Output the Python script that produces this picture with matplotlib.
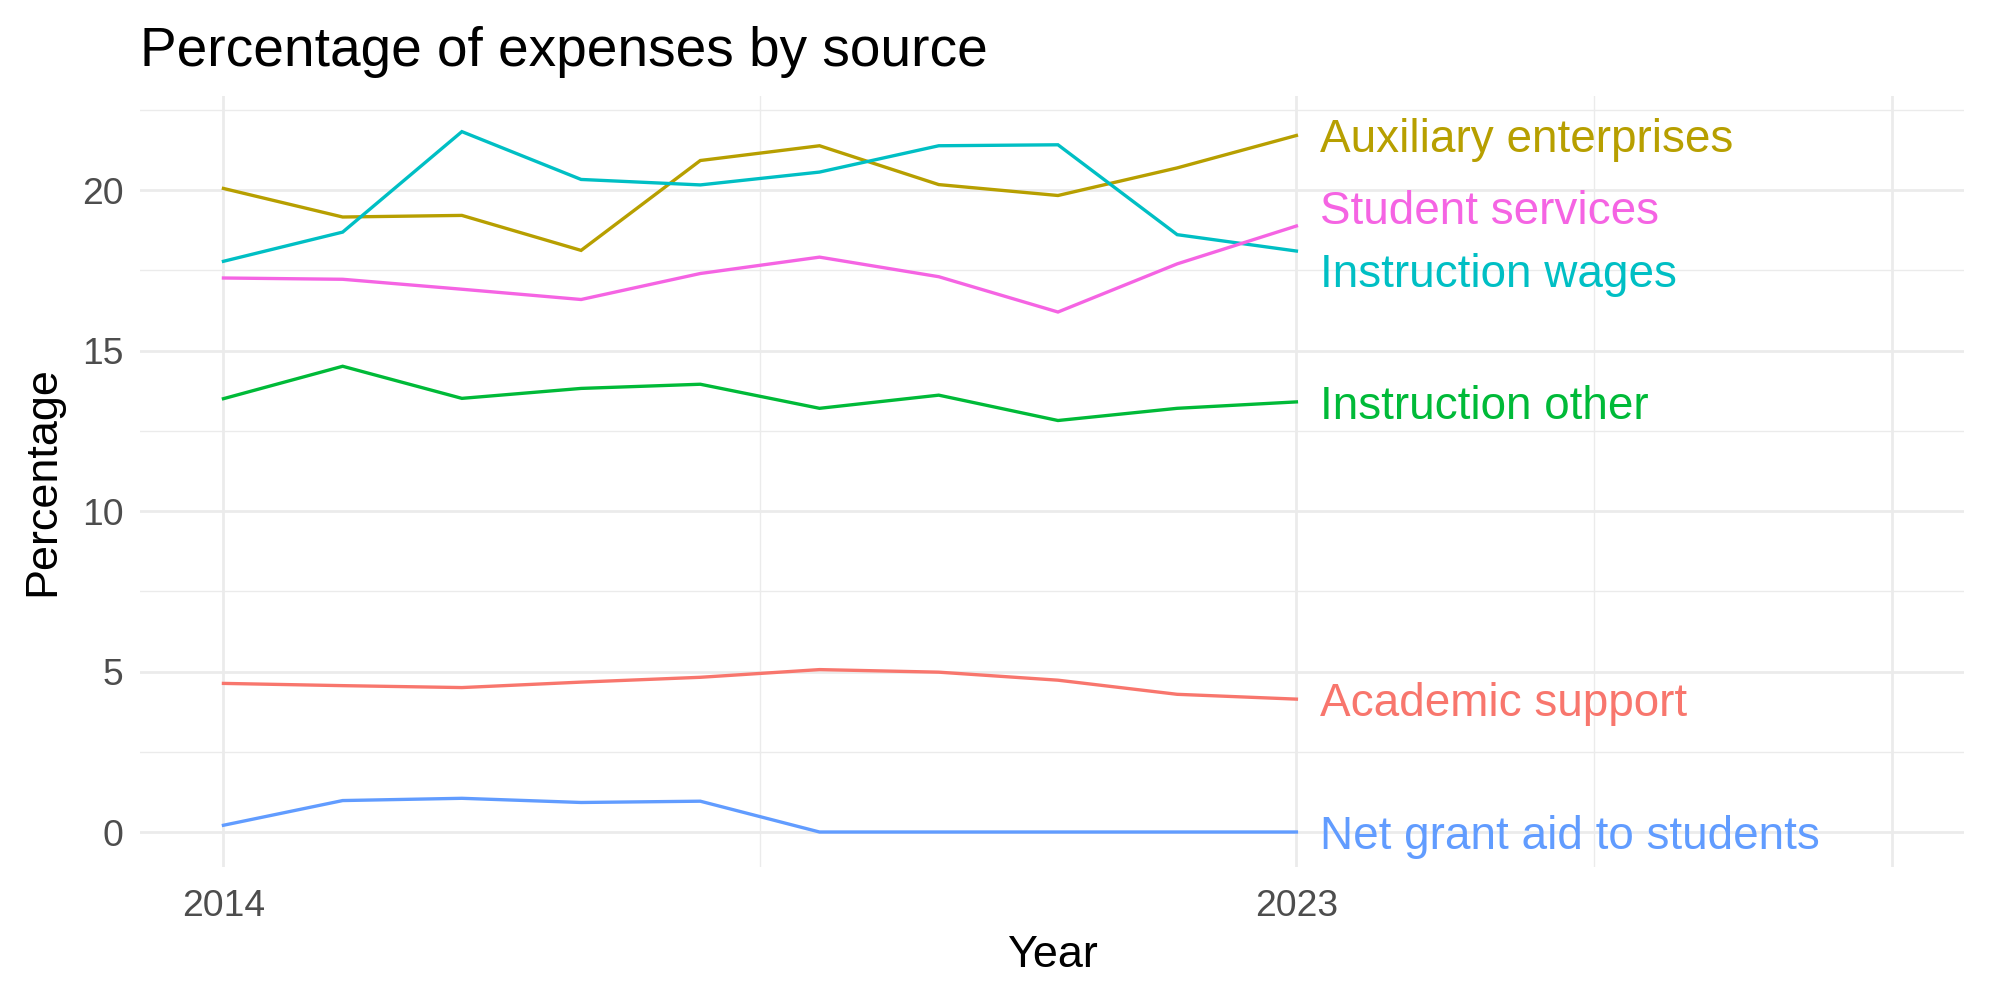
import numpy as np
import matplotlib
matplotlib.use("Agg")
import matplotlib.pyplot as plt
from matplotlib.ticker import FixedLocator

plt.rcParams['font.family'] = ['Liberation Sans', 'DejaVu Sans']

# data
years = [2014, 2015, 2016, 2017, 2018, 2019, 2020, 2021, 2022, 2023]
academic_support = [4.63, 4.56, 4.50, 4.67, 4.82, 5.06, 4.98, 4.73, 4.29, 4.14]
auxiliary_enterprises = [20.05, 19.16, 19.21, 18.12, 20.92, 21.38, 20.17, 19.83, 20.69, 21.70]
instruction_other = [13.50, 14.51, 13.51, 13.82, 13.95, 13.20, 13.61, 12.82, 13.20, 13.40]
instruction_wages = [17.78, 18.69, 21.82, 20.33, 20.16, 20.56, 21.38, 21.41, 18.61, 18.10]
net_grant_aid = [0.21, 0.98, 1.05, 0.92, 0.96, 0.0, 0.0, 0.0, 0.0, 0.0]
student_services = [17.26, 17.22, 16.91, 16.59, 17.40, 17.91, 17.30, 16.20, 17.70, 18.88]

series_names = ["Academic support", "Auxiliary enterprises", "Instruction other",
                "Instruction wages", "Net grant aid to students", "Student services"]
series_values = [academic_support, auxiliary_enterprises, instruction_other,
                 instruction_wages, net_grant_aid, student_services]
colors = ["#F8766D", "#B79F00", "#00BA38", "#00BFC4", "#619CFF", "#F564E3"]

x_breaks = [2014, 2023, 2028]
x_labels = ["2014", "2023", ""]


def repel(values, gap=1.94, iters=50):
    # push end labels apart vertically so they don't overlap
    pos = np.array(values, dtype=float)
    order = np.argsort(pos)
    for _ in range(iters):
        moved = False
        for a, b in zip(order[:-1], order[1:]):
            d = pos[b] - pos[a]
            if d < gap:
                shift = (gap - d) / 2
                pos[a] -= shift
                pos[b] += shift
                moved = True
        if not moved:
            break
    return pos


fig = plt.figure(figsize=(10, 5), dpi=200)
ax = fig.add_axes([0.07, 0.133, 0.912, 0.771])

for name, vals, col in zip(series_names, series_values, colors):
    ax.plot(years, vals, color=col, lw=1.2, solid_joinstyle='miter', zorder=3)

last_vals = [v[-1] for v in series_values]
label_y = repel(last_vals)
for name, y, col in zip(series_names, label_y, colors):
    ax.annotate(name, (years[-1] + 0.2, y), xytext=(0, -1.8), textcoords='offset points',
                color=col, fontsize=16.5, va='center', ha='left', zorder=4)

ax.set_xlim(2013.3, 2028.6)
ax.set_ylim(-1.09, 22.93)

ax.xaxis.set_major_locator(FixedLocator(x_breaks))
ax.set_xticklabels(x_labels)
ax.xaxis.set_minor_locator(FixedLocator([2018.5, 2025.5]))
ax.set_yticks([0, 5, 10, 15, 20])
ax.yaxis.set_minor_locator(FixedLocator([2.5, 7.5, 12.5, 17.5, 22.5]))

ax.grid(which='major', color='#EBEBEB', lw=1.0)
ax.grid(which='minor', color='#EBEBEB', lw=0.5)
ax.set_axisbelow(True)
for s in ax.spines.values():
    s.set_visible(False)
ax.tick_params(which='both', length=0)
ax.tick_params(axis='both', labelsize=13.4, labelcolor='#4D4D4D')
ax.tick_params(axis='x', pad=8)
ax.tick_params(axis='y', pad=6)

ax.set_xlabel("Year", fontsize=16.2, labelpad=4)
ax.set_ylabel("Percentage", fontsize=16.2, labelpad=6.5)
ax.set_title("Percentage of expenses by source", fontsize=19.8, loc='left', pad=10.8)

fig.savefig("out.png", dpi=200)
